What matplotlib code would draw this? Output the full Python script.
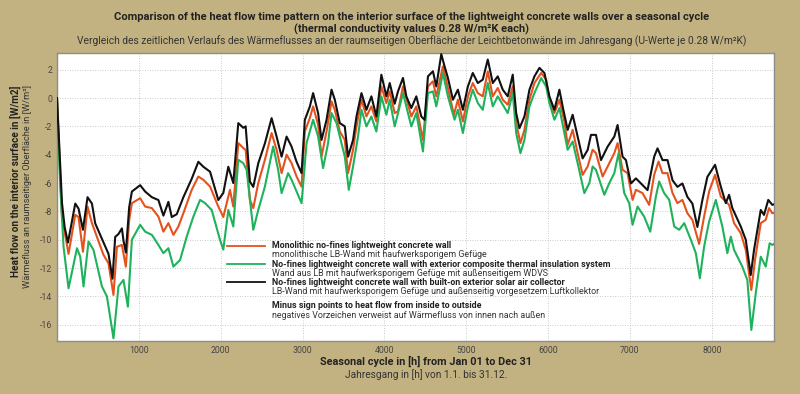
import matplotlib
matplotlib.use("Agg")
import matplotlib.pyplot as plt
from matplotlib.lines import Line2D

plt.rcParams['font.family'] = ['Roboto', 'DejaVu Sans']

# ---- data (hours, W/m2) ----
black_h = [0, 61, 93, 134, 223, 263, 317, 373, 427, 467, 568, 629, 678, 711, 751, 793, 812, 841,
           882, 915, 1016, 1077, 1159, 1239, 1300, 1361, 1402, 1463, 1544, 1646, 1727, 1788, 1870,
           1971, 2032, 2093, 2154, 2215, 2276, 2305, 2357, 2398, 2459, 2540, 2622, 2683, 2744, 2805,
           2866, 2927, 2988, 3028, 3089, 3129, 3190, 3232, 3293, 3354, 3394, 3455, 3516, 3556, 3617,
           3659, 3720, 3781, 3841, 3902, 3963, 4024, 4065, 4126, 4166, 4227, 4268, 4329, 4390, 4451,
           4491, 4532, 4593, 4634, 4695, 4735, 4776, 4837, 4898, 4959, 5020, 5080, 5141, 5202, 5263,
           5324, 5385, 5446, 5507, 5568, 5610, 5650, 5711, 5772, 5833, 5894, 5955, 6016, 6077, 6138,
           6178, 6239, 6300, 6361, 6422, 6483, 6524, 6585, 6646, 6727, 6809, 6849, 6910, 6951, 7012,
           7073, 7134, 7215, 7296, 7337, 7398, 7459, 7520, 7580, 7641, 7702, 7763, 7824, 7885, 7946,
           7988, 8040, 8110, 8171, 8211, 8251, 8354, 8415, 8476, 8516, 8598, 8638, 8690, 8739, 8760]
black_v = [0, -7.4, -9.1, -10.2, -7.45, -7.8, -9.3, -7.0, -7.45, -8.85, -10.2, -11.0, -12.75, -9.8,
           -9.6, -9.2, -10.05, -10.9, -7.7, -6.6, -6.15, -6.6, -7.0, -7.2, -8.3, -7.33, -8.4, -8.2,
           -7.0, -5.7, -4.5, -4.85, -5.2, -7.2, -6.7, -4.85, -6.0, -1.77, -2.1, -2.0, -5.9, -6.27,
           -4.6, -3.2, -1.42, -2.72, -4.14, -2.72, -3.43, -4.5, -5.3, -1.54, -0.6, 0.35, -1.06,
           -2.96, -1.54, 0.59, -0.12, -1.77, -2.0, -4.14, -2.96, -1.3, 0.35, -0.83, 0.12, -1.3, 1.65,
           0.12, 1.06, -0.4, 0.47, 1.42, 0.12, -0.71, 0.12, -1.3, -1.54, 1.53, 1.89, 0.82, 3.1, 2.24,
           1.42, -0.12, 0.59, -0.83, 0.82, 1.77, 1.06, 1.3, 2.72, 1.06, 1.53, 0.59, 0.12, 1.65, -1.06,
           -2.13, -1.3, 0.59, 1.53, 2.13, 1.77, 0.12, -0.83, 0.59, -0.6, -2.25, -1.18, -2.72, -4.26,
           -3.67, -2.6, -2.6, -4.38, -3.43, -2.72, -1.9, -4.14, -4.38, -6.03, -5.67, -6.03, -6.5,
           -4.14, -3.55, -4.38, -4.38, -5.8, -6.27, -6.03, -6.98, -7.45, -9.1, -7.2, -5.56, -5.19,
           -4.71, -6.25, -7.42, -6.83, -7.77, -9.07, -10.0, -12.49, -10.72, -7.9, -8.25, -7.19,
           -7.54, -7.5]

orange_h = [0, 61, 141, 223, 263, 317, 373, 427, 568, 629, 690, 732, 793, 841, 882, 915, 1016, 1077,
            1159, 1239, 1300, 1361, 1422, 1483, 1544, 1646, 1727, 1788, 1870, 1971, 2032, 2113, 2154,
            2215, 2276, 2305, 2357, 2398, 2459, 2540, 2622, 2683, 2744, 2805, 2866, 2927, 2988, 3028,
            3089, 3129, 3190, 3232, 3293, 3354, 3394, 3455, 3516, 3556, 3617, 3659, 3720, 3781, 3841,
            3902, 3963, 4024, 4065, 4126, 4166, 4227, 4329, 4390, 4471, 4532, 4593, 4634, 4715, 4776,
            4849, 4898, 4959, 5020, 5080, 5141, 5202, 5263, 5324, 5385, 5446, 5507, 5568, 5610, 5662,
            5711, 5772, 5833, 5915, 5976, 6016, 6077, 6138, 6199, 6239, 6300, 6361, 6422, 6483, 6544,
            6585, 6666, 6727, 6809, 6849, 6910, 6971, 7032, 7073, 7154, 7235, 7296, 7349, 7398, 7459,
            7520, 7580, 7641, 7702, 7763, 7845, 7906, 7967, 8040, 8110, 8211, 8272, 8354, 8415, 8483,
            8528, 8598, 8659, 8699, 8739, 8760]
orange_v = [0, -8.4, -11.0, -8.25, -8.4, -10.85, -7.66, -8.83, -11.07, -11.66, -13.9, -10.5, -10.37,
            -11.9, -8.6, -7.42, -7.07, -7.66, -7.77, -8.37, -9.43, -8.83, -9.66, -9.07, -8.13, -6.48,
            -5.54, -5.77, -6.25, -7.66, -8.4, -6.48, -7.66, -3.18, -3.53, -3.66, -7.19, -7.77, -6.0,
            -4.36, -2.47, -3.65, -5.3, -4.0, -4.6, -5.54, -6.25, -2.36, -1.41, -0.59, -1.89, -4.13,
            -2.36, -0.24, -0.83, -2.36, -2.95, -5.3, -3.65, -2.0, -0.12, -1.3, -0.59, -1.65, 0.82,
            -0.35, 0.47, -1.06, -0.94, 0.82, -1.3, -0.59, -2.95, 0.82, 1.18, 0.12, 2.24, 0.71, -1.18,
            -0.12, -1.65, 0.12, 1.06, 0.35, 0.12, 1.88, 0.12, 0.71, -0.12, -0.47, 0.82, -1.77, -3.18,
            -2.24, -0.12, 1.06, 1.77, 1.3, -0.12, -1.06, -0.12, -1.65, -3.3, -2.24, -3.89, -5.42,
            -4.83, -3.65, -3.89, -5.54, -4.83, -3.89, -3.18, -5.07, -5.3, -7.19, -6.48, -6.71, -7.54,
            -5.42, -4.48, -5.3, -5.3, -6.71, -7.42, -7.19, -8.13, -8.6, -10.3, -8.37, -6.6, -5.42,
            -6.95, -7.54, -8.83, -9.54, -10.72, -13.55, -11.43, -8.83, -8.6, -7.77, -8.13, -8.1]

green_h = [0, 40, 80, 141, 244, 284, 324, 385, 446, 549, 610, 690, 751, 812, 866, 915, 1016, 1077,
           1159, 1239, 1300, 1361, 1422, 1504, 1585, 1666, 1748, 1809, 1890, 1991, 2032, 2093, 2154,
           2215, 2276, 2317, 2398, 2459, 2540, 2641, 2702, 2744, 2824, 2866, 2927, 2988, 3049, 3089,
           3129, 3190, 3251, 3312, 3354, 3415, 3476, 3516, 3565, 3617, 3678, 3720, 3781, 3841, 3902,
           3963, 4024, 4065, 4126, 4227, 4329, 4390, 4471, 4532, 4593, 4634, 4715, 4776, 4857, 4898,
           4959, 5020, 5080, 5141, 5202, 5263, 5324, 5385, 5446, 5507, 5568, 5610, 5662, 5711, 5772,
           5833, 5915, 5976, 6016, 6077, 6138, 6199, 6239, 6300, 6361, 6443, 6504, 6544, 6585, 6687,
           6748, 6809, 6861, 6930, 6991, 7032, 7093, 7174, 7248, 7317, 7357, 7418, 7480, 7541, 7602,
           7663, 7744, 7805, 7854, 7906, 7967, 8049, 8129, 8190, 8232, 8272, 8373, 8434, 8483, 8537,
           8598, 8659, 8707, 8739, 8760]
green_v = [0, -6.25, -10.5, -13.43, -10.6, -11.2, -13.3, -10.13, -10.72, -13.3, -14.0, -16.96, -13.3,
           -12.84, -14.73, -10.0, -8.95, -9.43, -9.66, -10.37, -10.95, -10.6, -11.9, -11.43, -9.78,
           -8.37, -7.19, -7.42, -7.9, -10.0, -10.7, -7.9, -9.07, -4.36, -4.6, -5.07, -9.3, -7.9,
           -6.25, -3.42, -5.07, -6.71, -5.3, -5.77, -6.6, -7.42, -3.18, -2.36, -1.53, -2.71, -4.95,
           -3.18, -1.06, -1.77, -3.18, -4.13, -6.48, -4.83, -2.71, -0.83, -2.0, -1.3, -2.36, 0.12,
           -1.18, -0.12, -2.0, 0.35, -2.0, -1.06, -3.77, 0.35, 0.47, -0.59, 1.77, 0.12, -1.53, -0.83,
           -2.47, -0.59, 0.59, -0.35, -0.83, 1.06, -0.59, 0.12, -0.47, -1.06, 0.35, -2.47, -3.89,
           -2.95, -0.59, 0.35, 1.41, 0.82, -0.35, -1.53, -0.71, -2.47, -3.65, -3.07, -4.6, -6.71,
           -6.0, -4.83, -5.07, -6.83, -6.0, -5.3, -3.89, -6.71, -7.42, -8.95, -7.66, -8.37, -9.43,
           -6.95, -5.89, -6.71, -7.19, -9.07, -9.3, -8.83, -10.0, -10.95, -12.72, -10.49, -8.72,
           -7.19, -9.07, -10.95, -9.78, -10.72, -11.9, -12.84, -16.37, -13.78, -11.2, -11.9, -10.25,
           -10.37, -10.3]

x_ticks = [1000, 2000, 3000, 4000, 5000, 6000, 7000, 8000]
y_ticks = [2, 0, -2, -4, -6, -8, -10, -12, -14, -16]

legend_bold = ["Monolithic no-fines lightweight concrete wall",
               "No-fines lightweight concrete wall with exterior composite thermal insulation system",
               "No-fines lightweight concrete wall with built-on exterior solar air collector"]
legend_de = ["monolithische LB-Wand mit haufwerksporigem Gefüge",
             "Wand aus LB mit haufwerksporigem Gefüge mit außenseitigem WDVS",
             "LB-Wand mit haufwerksporigem Gefüge und außenseitig vorgesetzem Luftkollektor"]

BG = '#c3b281'
ORANGE = '#e4521e'
GREEN = '#1fb25c'
BLACK = '#111111'
TXT = '#222222'
LEG_FS = 6.4

fig = plt.figure(figsize=(8.0, 3.94), dpi=100, facecolor=BG)
ax = fig.add_axes([57/800, 1-341/394, (774-57)/800, (341-53)/394])
ax.set_facecolor('white')

ax.plot(orange_h, orange_v, color=ORANGE, lw=1.5, zorder=3)
ax.plot(green_h, green_v, color=GREEN, lw=1.5, zorder=3)
ax.plot(black_h, black_v, color=BLACK, lw=1.5, zorder=4)

ax.set_xlim(0, 8760)
ax.set_ylim(-17.15, 3.18)
ax.set_xticks(x_ticks)
ax.set_xticklabels([str(v) for v in x_ticks])
ax.set_yticks(y_ticks)
ax.set_yticklabels([str(v).replace('\u2212', '-') for v in y_ticks])
ax.tick_params(length=0, labelsize=6.3, labelcolor='#444444', pad=3.5)
ax.grid(True, linestyle=(0, (1, 2)), color='#b8b8b8', lw=0.6)
for s in ax.spines.values():
    s.set_color('#8c8c8c')
    s.set_linewidth(1.0)

# legend built from handles and texts in axes coordinates
colors = [ORANGE, GREEN, BLACK]
line_y = [0.331, 0.266, 0.204]
de_y = [0.299, 0.235, 0.171]
for c, ly, dy, tb, td in zip(colors, line_y, de_y, legend_bold, legend_de):
    ax.add_line(Line2D([0.2367, 0.290], [ly, ly], color=c, lw=1.3, transform=ax.transAxes, zorder=5))
    ax.text(0.2995, ly, tb, transform=ax.transAxes, fontsize=LEG_FS, fontweight='bold',
            color=TXT, va='center', ha='left', zorder=5)
    ax.text(0.2995, dy, td, transform=ax.transAxes, fontsize=LEG_FS, color='#333333',
            va='center', ha='left', zorder=5)
ax.text(0.2995, 0.125, "Minus sign points to heat flow from inside to outside", transform=ax.transAxes,
        fontsize=LEG_FS, fontweight='bold', color=TXT, va='center', ha='left', zorder=5)
ax.text(0.2995, 0.0878, "negatives Vorzeichen verweist auf Wärmefluss von innen nach außen",
        transform=ax.transAxes, fontsize=LEG_FS, color='#333333', va='center', ha='left', zorder=5)

# titles
fig.text(0.515, 1-17/394, "Comparison of the heat flow time pattern on the interior surface of the lightweight concrete walls over a seasonal cycle",
         ha='center', va='center', fontsize=8, fontweight='bold', color=TXT)
fig.text(0.515, 1-29/394, "(thermal conductivity values 0.28 W/m²K each)",
         ha='center', va='center', fontsize=8, fontweight='bold', color=TXT)
fig.text(0.515, 1-41/394, "Vergleich des zeitlichen Verlaufs des Wärmeflusses an der raumseitigen Oberfläche der Leichtbetonwände im Jahresgang (U-Werte je 0.28 W/m²K)",
         ha='center', va='center', fontsize=7.4, color='#333333')

# axis labels
fig.text(0.533, 1-361/394, "Seasonal cycle in [h] from Jan 01 to Dec 31", ha='center', va='center',
         fontsize=7.8, fontweight='bold', color=TXT)
fig.text(0.533, 1-375/394, "Jahresgang in [h] von 1.1. bis 31.12.", ha='center', va='center',
         fontsize=7.3, color='#333333')
fig.text(15/800, 1-181/394, "Heat flow on the interior surface in [W/m2]", rotation=90,
         ha='center', va='center', fontsize=7.2, fontweight='bold', color=TXT)
fig.text(28/800, 1-186/394, "Wärmefluss an raumseitiger Oberfläche in [W/m²]", rotation=90,
         ha='center', va='center', fontsize=6.7, color='#333333')

fig.savefig('out.png', dpi=100, facecolor=BG)
